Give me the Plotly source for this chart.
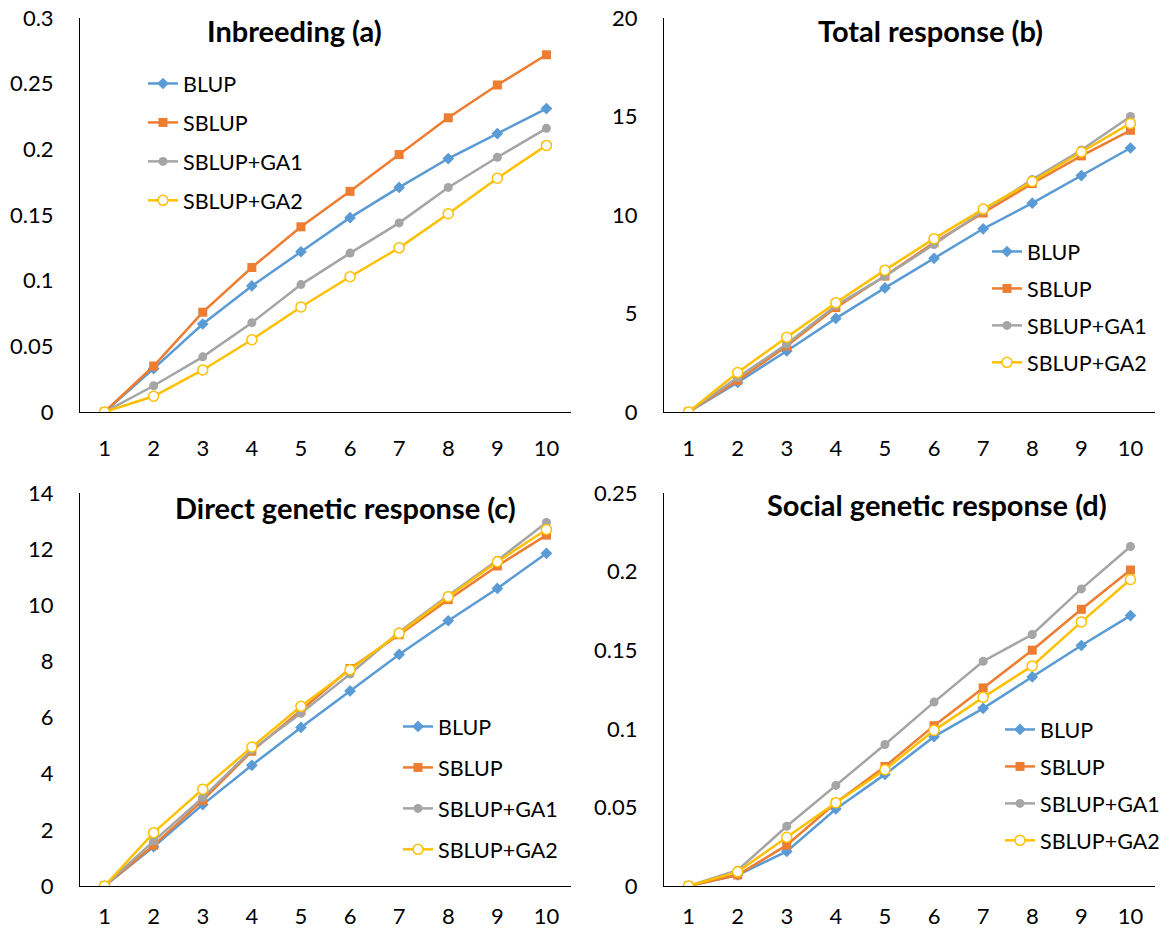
import plotly.graph_objects as go

generations = [1, 2, 3, 4, 5, 6, 7, 8, 9, 10]
series_names = ["BLUP", "SBLUP", "SBLUP+GA1", "SBLUP+GA2"]

inbreeding_blup = [0, 0.033, 0.067, 0.096, 0.122, 0.148, 0.171, 0.193, 0.212, 0.231]
inbreeding_sblup = [0, 0.035, 0.076, 0.110, 0.141, 0.168, 0.196, 0.224, 0.249, 0.272]
inbreeding_ga1 = [0, 0.020, 0.042, 0.068, 0.097, 0.121, 0.144, 0.171, 0.194, 0.216]
inbreeding_ga2 = [0, 0.012, 0.032, 0.055, 0.080, 0.103, 0.125, 0.151, 0.178, 0.203]

total_blup = [0, 1.5, 3.1, 4.75, 6.3, 7.8, 9.3, 10.6, 12.0, 13.4]
total_sblup = [0, 1.6, 3.35, 5.3, 6.9, 8.6, 10.1, 11.6, 13.0, 14.3]
total_ga1 = [0, 1.75, 3.45, 5.4, 6.9, 8.5, 10.2, 11.8, 13.3, 15.0]
total_ga2 = [0, 2.0, 3.8, 5.55, 7.2, 8.8, 10.3, 11.7, 13.2, 14.65]

direct_blup = [0, 1.4, 2.9, 4.3, 5.65, 6.95, 8.25, 9.45, 10.6, 11.85]
direct_sblup = [0, 1.45, 3.05, 4.8, 6.25, 7.75, 8.95, 10.2, 11.4, 12.5]
direct_ga1 = [0, 1.6, 3.15, 4.85, 6.15, 7.55, 9.05, 10.35, 11.6, 12.95]
direct_ga2 = [0, 1.9, 3.45, 4.95, 6.4, 7.7, 9.0, 10.3, 11.55, 12.7]

social_blup = [0, 0.007, 0.022, 0.049, 0.071, 0.095, 0.113, 0.133, 0.153, 0.172]
social_sblup = [0, 0.007, 0.026, 0.053, 0.076, 0.102, 0.126, 0.150, 0.176, 0.201]
social_ga1 = [0, 0.010, 0.038, 0.064, 0.090, 0.117, 0.143, 0.160, 0.189, 0.216]
social_ga2 = [0, 0.009, 0.031, 0.053, 0.074, 0.099, 0.120, 0.140, 0.168, 0.195]

panel_titles = ["Inbreeding (a)", "Total response (b)",
                "Direct genetic response (c)", "Social genetic response (d)"]
panel_data = [
    [inbreeding_blup, inbreeding_sblup, inbreeding_ga1, inbreeding_ga2],
    [total_blup, total_sblup, total_ga1, total_ga2],
    [direct_blup, direct_sblup, direct_ga1, direct_ga2],
    [social_blup, social_sblup, social_ga1, social_ga2],
]
y_ranges = [[0, 0.3], [0, 20], [0, 14], [0, 0.25]]
y_dticks = [0.05, 5, 2, 0.05]

W, H = 1171, 930
FONT = "Lato"

colors = ["#5B9BD5", "#ED7D31", "#A5A5A5", "#FFC000"]
symbols = ["diamond", "square", "circle", "circle"]
msizes = [9, 9, 9, 10]

# panel pixel boxes: (x0, x1, ytop, ybottom)
boxes = [(80, 571, 18, 412), (664, 1155, 18, 412),
         (80, 571, 493, 886), (664, 1155, 493, 886)]
x_standoff = [17, 17, 11, 11]
# legend settings: (text_x_px, first_entry_center_px, gap)
legend_pos = [(183, 83, 8), (1027, 251, 6), (438, 726, 10), (1040, 729, 6)]
title_pos = [(294, 31), (930, 31), (345, 507), (937, 504)]


def px_x(v):
    return v / W


def px_y(v):
    return 1 - v / H


fig = go.Figure()
for p in range(4):
    ax = "" if p == 0 else str(p + 1)
    leg = "legend" if p == 0 else "legend" + str(p + 1)
    for s in range(4):
        marker = dict(symbol=symbols[s], size=msizes[s], color=colors[s])
        if s == 3:
            marker = dict(symbol="circle", size=msizes[s], color="white",
                          line=dict(color=colors[s], width=1.5))
        fig.add_trace(go.Scatter(
            x=generations, y=panel_data[p][s], name=series_names[s],
            mode="lines+markers", line=dict(color=colors[s], width=2.5),
            marker=marker, xaxis="x" + ax, yaxis="y" + ax, legend=leg,
            legendgroup=f"g{p}_{s}",
        ))
    x0, x1, yt, yb = boxes[p]
    fig.layout["xaxis" + ax] = dict(
        domain=[px_x(x0), px_x(x1)], anchor="y" + ax, range=[0.5, 10.5],
        tickvals=generations, showgrid=False, zeroline=False, showline=True,
        linecolor="black", linewidth=1, ticks="", ticklabelstandoff=x_standoff[p],
        tickfont=dict(family=FONT, size=22, color="black"), fixedrange=True,
        automargin=False, ticklabeloverflow="allow",
    )
    fig.layout["yaxis" + ax] = dict(
        domain=[px_y(yb), px_y(yt)], anchor="x" + ax, range=y_ranges[p],
        dtick=y_dticks[p], tick0=0, showgrid=False, zeroline=False, showline=True,
        linecolor="black", linewidth=1, ticks="", ticklabelstandoff=21,
        tickfont=dict(family=FONT, size=22, color="black"), fixedrange=True,
        automargin=False, ticklabeloverflow="allow",
    )
    tx_px, cy_px, gap = legend_pos[p]
    fig.layout[leg] = dict(
        x=px_x(tx_px - 40), y=px_y(cy_px - 20), xanchor="left", yanchor="top",
        xref="paper", yref="paper", bgcolor="rgba(0,0,0,0)",
        font=dict(family=FONT, size=21.5, color="black"),
        tracegroupgap=gap, itemwidth=30,
    )
    tx, ty = title_pos[p]
    fig.add_annotation(
        x=px_x(tx), y=px_y(ty), xref="paper", yref="paper", showarrow=False,
        text="<b>" + panel_titles[p] + "</b>", xanchor="center", yanchor="middle",
        font=dict(family=FONT, size=29, color="black"),
    )

fig.update_layout(
    width=W, height=H, margin=dict(l=0, r=0, t=0, b=0, pad=0),
    paper_bgcolor="white", plot_bgcolor="white", showlegend=True,
)
fig.write_html(
    "out.html",
    config={"displayModeBar": False},
    post_script="document.body.style.margin='0';document.body.style.overflow='hidden';",
)
